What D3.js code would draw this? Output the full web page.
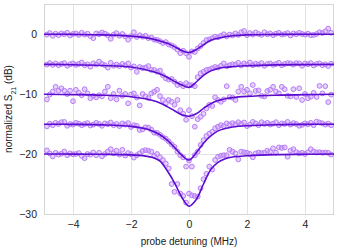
<!DOCTYPE html>
<html>
<head>
<meta charset="utf-8">
<script src="https://cdn.jsdelivr.net/npm/d3@7"></script>
<style>
  body { margin: 0; background: #fff; }
  text { font-family: "Liberation Sans", Arial, sans-serif; fill: #222; }
  .grid line { stroke: #e3e3e3; stroke-width: 1; }
  .frame { fill: none; stroke: #d6d6d6; stroke-width: 1; }
  .pts circle { fill: rgba(196, 150, 250, 0.45); stroke: #b77cf7; stroke-width: 1; }
  .fit { fill: none; stroke: #5c0cd0; stroke-width: 1.6; }
</style>
</head>
<body>
<div id="chart"></div>
<script>
// Data  - - - - - - - - - - - - - - - - - - - - - - - - - - - - - - - - - - - - - - - - - -
// probe detuning of the measured points (MHz)
var detuning = [-4.9, -4.8, -4.7, -4.6, -4.5, -4.4, -4.3, -4.2, -4.1, -4.0,
  -3.9, -3.8, -3.7, -3.6, -3.5, -3.4, -3.3, -3.2, -3.1, -3.0,
  -2.9, -2.8, -2.7, -2.6, -2.5, -2.4, -2.3, -2.2, -2.1, -2.0,
  -1.9, -1.8, -1.7, -1.6, -1.5, -1.4, -1.3, -1.2, -1.1, -1.0,
  -0.9, -0.8, -0.7, -0.6, -0.5, -0.4, -0.3, -0.2, -0.1, 0.0,
  0.1, 0.2, 0.3, 0.4, 0.5, 0.6, 0.7, 0.8, 0.9, 1.0,
  1.1, 1.2, 1.3, 1.4, 1.5, 1.6, 1.7, 1.8, 1.9, 2.0,
  2.1, 2.2, 2.3, 2.4, 2.5, 2.6, 2.7, 2.8, 2.9, 3.0,
  3.1, 3.2, 3.3, 3.4, 3.5, 3.6, 3.7, 3.8, 3.9, 4.0,
  4.1, 4.2, 4.3, 4.4, 4.5, 4.6, 4.7, 4.8, 4.9]

// measured S21 (dB), one array per trace (already offset by 5 dB steps)
var s21_a = [-0.1, 0.15, -0.3, 0.05, -0.2, 0.1, -0.05, 0.2, -0.25, 0.0,
  0.1, -0.15, 0.2, -0.1, 0.05, -0.35, -0.7, 0.1, -0.05, 0.25,
  0.05, -0.2, -0.8, -0.1, 0.15, -0.3, 0.0, -0.4, -0.95, -0.35,
  0.3, -0.5, -0.2, -0.45, -0.3, -0.7, -0.6, -0.95, -1.0, -1.2,
  -1.5, -1.35, -1.75, -1.9, -2.2, -2.6, -3.2, -2.8, -3.2, -3.8,
  -2.9, -3.0, -2.4, -2.0, -1.5, -1.0, -0.9, -0.7, -0.45, -0.55,
  -0.3, -0.05, -0.4, -0.1, -0.25, 0.1, -0.15, 0.3, 0.5, -0.2,
  0.15, -0.1, 0.25, 0.0, -0.15, 0.3, -0.05, 0.1, -0.2, 0.05,
  0.2, -0.1, 0.0, 0.15, -0.25, 0.1, -0.05, 0.2, 0.0, -0.1,
  0.05, -0.2, -0.15, 0.0, 0.3, 0.15, 0.45, 0.9, 0.2]

var s21_b = [-5.1, -4.85, -5.15, -4.9, -5.2, -5.0, -4.85, -5.3, -5.05, -4.9,
  -5.15, -5.0, -4.75, -5.2, -5.05, -5.45, -4.9, -5.1, -4.6, -5.0,
  -5.2, -5.6, -4.8, -5.3, -5.1, -5.35, -5.0, -5.25, -4.9, -5.6,
  -5.4, -6.3, -5.5, -5.7, -5.6, -5.35, -6.0, -6.0, -6.3, -6.1,
  -6.9, -7.4, -7.6, -7.5, -7.95, -8.5, -8.3, -8.7, -8.2, -8.5,
  -8.55, -8.7, -7.2, -6.55, -6.3, -6.0, -5.9, -5.7, -5.5, -5.6,
  -5.3, -4.9, -5.4, -5.2, -5.05, -5.1, -4.8, -5.25, -4.9, -5.1,
  -4.75, -5.2, -4.95, -5.1, -4.85, -5.3, -5.0, -4.9, -5.15, -5.0,
  -4.8, -5.2, -5.0, -4.85, -4.9, -5.1, -4.85, -4.9, -5.3, -4.9,
  -5.05, -4.85, -5.25, -5.0, -4.9, -5.2, -5.05, -5.35, -4.95]

var s21_c = [-10.9, -10.1, -9.6, -8.8, -9.45, -9.05, -9.45, -10.0, -9.45, -11.2,
  -9.3, -9.8, -10.2, -9.2, -9.9, -10.7, -10.3, -10.55, -10.2, -10.4,
  -9.6, -8.8, -10.7, -10.0, -10.9, -9.45, -10.3, -10.0, -11.55, -10.1,
  -9.9, -10.6, -11.9, -10.0, -10.4, -10.7, -9.9, -9.6, -9.3, -10.35,
  -11.0, -11.55, -11.0, -11.3, -11.8, -11.0, -12.7, -13.3, -14.3, -12.7,
  -13.7, -15.45, -14.2, -13.8, -13.3, -12.4, -11.8, -12.0, -10.55, -11.0,
  -11.3, -10.9, -8.7, -10.5, -10.6, -11.0, -9.6, -8.8, -9.6, -9.3,
  -9.9, -8.5, -9.5, -9.4, -10.3, -10.4, -9.5, -9.3, -8.8, -9.6,
  -9.9, -8.8, -9.2, -10.3, -10.4, -9.2, -10.5, -9.05, -11.0, -10.0,
  -10.7, -10.45, -9.8, -10.5, -8.65, -9.9, -8.7, -11.35, -10.1]

var s21_d = [-15.4, -14.95, -15.2, -14.8, -15.0, -14.7, -14.65, -15.3, -15.0, -15.1,
  -14.8, -14.95, -15.2, -15.0, -14.85, -15.25, -15.1, -14.8, -15.0, -15.3,
  -14.9, -15.05, -14.75, -15.2, -15.0, -15.35, -14.9, -15.1, -14.85, -15.5,
  -15.2, -15.3, -16.0, -15.9, -15.55, -15.6, -15.95, -16.45, -16.5, -16.8,
  -17.2, -17.45, -17.9, -18.4, -18.8, -19.6, -20.2, -20.55, -22.1, -21.1,
  -22.1, -20.2, -19.6, -18.5, -17.7, -17.0, -16.6, -16.3, -15.7, -15.45,
  -15.2, -15.35, -14.9, -15.1, -14.85, -15.05, -14.7, -15.0, -14.75, -15.35,
  -15.1, -14.65, -14.9, -15.2, -14.7, -15.0, -14.8, -15.1, -14.95, -14.7,
  -15.2, -14.9, -15.0, -14.65, -15.1, -14.85, -15.0, -15.3, -15.15, -14.9,
  -15.05, -14.8, -15.2, -14.6, -14.75, -14.9, -15.1, -14.95, -15.2]

var s21_e = [-19.4, -19.9, -20.4, -19.8, -20.1, -19.95, -19.6, -20.2, -19.9, -20.05,
  -20.0, -19.85, -20.3, -20.7, -20.0, -20.1, -19.75, -20.2, -19.8, -20.4,
  -20.0, -19.6, -19.2, -19.9, -19.45, -20.1, -19.3, -20.25, -19.85, -20.05,
  -20.6, -20.2, -19.9, -19.5, -19.35, -19.45, -19.6, -20.3, -20.0, -20.55,
  -21.0, -21.6, -22.4, -25.0, -26.3, -25.0, -26.6, -27.0, -28.1, -26.6,
  -26.9, -27.0, -27.1, -25.7, -24.2, -23.3, -22.1, -22.6, -21.0, -20.45,
  -20.3, -20.2, -20.2, -19.3, -19.6, -19.9, -20.9, -19.6, -19.7, -19.8,
  -20.0, -20.55, -19.9, -19.75, -19.85, -19.8, -19.45, -19.6, -19.05, -19.8,
  -18.9, -19.0, -18.9, -20.45, -19.45, -19.2, -19.7, -19.9, -19.8, -20.0,
  -19.7, -19.2, -19.6, -19.75, -19.7, -19.8, -19.75, -19.8, -20.1]

// fitted curves, sampled at these detunings
var fit_x = [-5, -4, -3, -2, -1.5, -1.25, -1, -0.75, -0.5, -0.25, 0,
  0.25, 0.5, 0.75, 1, 1.25, 1.5, 2, 3, 4, 5]
var fit_a = [-0.04, -0.07, -0.15, -0.35, -0.6, -0.85, -1.15, -1.55, -2.1, -2.75, -3.1,
  -2.6, -1.8, -1.05, -0.7, -0.45, -0.3, -0.15, -0.07, -0.04, -0.03]
var fit_b = [-5.07, -5.12, -5.25, -5.5, -5.95, -6.25, -6.65, -7.2, -7.9, -8.5, -8.9,
  -8.0, -6.9, -6.15, -5.75, -5.55, -5.45, -5.3, -5.15, -5.1, -5.07]
var fit_c = [-10.05, -10.1, -10.2, -10.45, -10.8, -11.1, -11.5, -12.1, -12.8, -13.45, -13.7,
  -13.3, -12.4, -11.6, -11.1, -10.8, -10.6, -10.4, -10.2, -10.1, -10.05]
var fit_d = [-15.03, -15.06, -15.15, -15.4, -15.8, -16.2, -16.8, -17.7, -18.9, -20.2, -21.0,
  -19.8, -18.2, -17.0, -16.15, -15.75, -15.5, -15.3, -15.12, -15.06, -15.03]
var fit_e = [-20.0, -20.02, -20.05, -20.15, -20.35, -20.6, -21.2, -22.8, -24.8, -27.2, -28.7,
  -27.6, -25.0, -22.6, -21.4, -20.8, -20.5, -20.3, -20.1, -20.05, -20.0]

var measured = [s21_a, s21_b, s21_c, s21_d, s21_e]
var fits = [fit_a, fit_b, fit_c, fit_d, fit_e]

var xTicks = [-4, -2, 0, 2, 4]
var yTicks = [0, -10, -20, -30]

// SVG Canvas  - - - - - - - - - - - - - - - - - - - - - - - - - - - - - - - - - - - - - - -
var svgWidth = 338
  , svgHeight = 250
  , margin = {top: 4, right: 4, bottom: 36, left: 44}
  , width = svgWidth - margin.left - margin.right
  , height = svgHeight - margin.top - margin.bottom

var svg = d3.select("#chart").append("svg")
    .attr("width", svgWidth)
    .attr("height", svgHeight)

var plot = svg.append("g")
    .attr("transform", "translate(" + margin.left + "," + margin.top + ")")

var x = d3.scaleLinear().domain([-5, 5]).range([0, width])
var y = d3.scaleLinear().domain([-30, 5]).range([height, 0])

// grid lines
var grid = plot.append("g").attr("class", "grid")
grid.selectAll(".gx").data(xTicks).enter().append("line")
    .attr("x1", d => x(d) + 0.5).attr("x2", d => x(d) + 0.5)
    .attr("y1", 0).attr("y2", height)
grid.selectAll(".gy").data(yTicks).enter().append("line")
    .attr("x1", 0).attr("x2", width)
    .attr("y1", d => y(d) + 0.5).attr("y2", d => y(d) + 0.5)

plot.append("rect").attr("class", "frame")
    .attr("x", 0.5).attr("y", 0.5)
    .attr("width", width - 1).attr("height", height)

// axes (labels only, no tick marks)
var xAxis = plot.append("g")
    .attr("transform", "translate(0," + height + ")")
    .call(d3.axisBottom(x).tickValues(xTicks).tickSize(0).tickPadding(7)
        .tickFormat(d => d < 0 ? "\u2212" + Math.abs(d) : d))
var yAxis = plot.append("g")
    .call(d3.axisLeft(y).tickValues(yTicks).tickSize(0).tickPadding(7))

svg.selectAll(".domain").remove()
svg.selectAll(".tick text")
    .style("font-family", "'Liberation Sans', Arial, sans-serif")
    .style("font-size", "10.5px")
    .attr("fill", "#222")

// measured points
measured.forEach(function(trace) {
    plot.append("g").attr("class", "pts")
        .selectAll("circle")
        .data(trace)
      .enter().append("circle")
        .attr("cx", (d, i) => x(detuning[i]))
        .attr("cy", d => y(d))
        .attr("r", 2.4)
})

// fits on top
var line = d3.line()
    .x((d, i) => x(fit_x[i]))
    .y(d => y(d))
    .curve(d3.curveCatmullRom.alpha(0.5))

fits.forEach(function(f) {
    plot.append("path").attr("class", "fit").attr("d", line(f))
})

// axis titles
svg.append("text")
    .attr("x", margin.left + width / 2)
    .attr("y", 245)
    .attr("text-anchor", "middle")
    .style("font-size", "10px")
    .text("probe detuning (MHz)")

var yl = svg.append("text")
    .attr("transform", "translate(12," + (margin.top + height / 2) + ") rotate(-90)")
    .attr("text-anchor", "middle")
    .style("font-size", "10px")
yl.append("tspan").text("normalized S")
yl.append("tspan").attr("baseline-shift", "sub").style("font-size", "7px").text("21")
yl.append("tspan").text(" (dB)")
</script>
</body>
</html>
